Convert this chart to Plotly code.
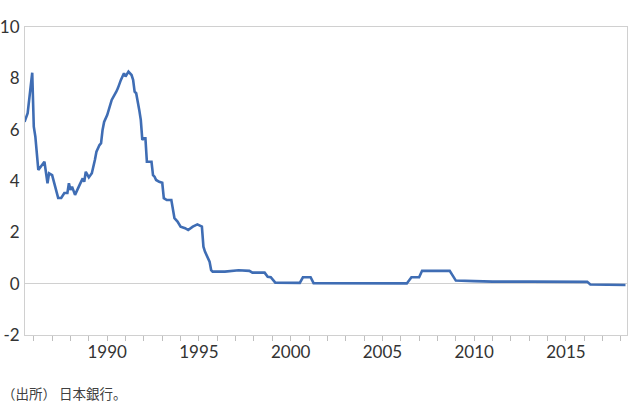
import plotly.graph_objects as go

dates = [
    "1985-07", "1985-09", "1985-12", "1986-01", "1986-02", "1986-04", "1986-08", "1986-10",
    "1986-11", "1987-01", "1987-05", "1987-07", "1987-09", "1987-11", "1987-12", "1988-01",
    "1988-02", "1988-04", "1988-07", "1988-09", "1988-10", "1988-11", "1989-01", "1989-03",
    "1989-05", "1989-06", "1989-08", "1989-09", "1989-10", "1989-11", "1990-01", "1990-02",
    "1990-04", "1990-07", "1990-08", "1990-10", "1990-12", "1991-01", "1991-03", "1991-05",
    "1991-06", "1991-07", "1991-08", "1991-10", "1991-11", "1991-12", "1992-01", "1992-02",
    "1992-03", "1992-06", "1992-07", "1992-08", "1992-09", "1992-11", "1993-01", "1993-02",
    "1993-04", "1993-07", "1993-09", "1993-11", "1994-01", "1994-04", "1994-06", "1994-09",
    "1994-12", "1995-03", "1995-04", "1995-05", "1995-07", "1995-08", "1995-09", "1995-10",
    "1996-06", "1997-03", "1997-10", "1997-12", "1998-08", "1998-10", "1998-12", "1999-03",
    "2000-07", "2000-09", "2001-02", "2001-04", "2006-05", "2006-08", "2007-01", "2007-03",
    "2008-09", "2009-01", "2010-01", "2011-01", "2013-01", "2015-06", "2016-03", "2016-05",
    "2018-04",
]
rates = [
    6.31, 6.64, 8.22, 6.12, 5.73, 4.43, 4.75, 3.91,
    4.30, 4.23, 3.34, 3.34, 3.53, 3.53, 3.91, 3.65,
    3.78, 3.46, 3.85, 4.10, 3.97, 4.36, 4.14, 4.30,
    4.82, 5.14, 5.40, 5.47, 5.99, 6.30, 6.57, 6.77,
    7.16, 7.48, 7.61, 7.94, 8.20, 8.07, 8.26, 8.13,
    7.94, 7.48, 7.42, 6.77, 6.38, 5.60, 5.66, 5.66,
    4.75, 4.75, 4.23, 4.17, 4.04, 3.97, 3.93, 3.33,
    3.26, 3.26, 2.55, 2.42, 2.22, 2.16, 2.09, 2.22,
    2.31, 2.22, 1.44, 1.25, 0.99, 0.86, 0.53, 0.47,
    0.47, 0.52, 0.50, 0.43, 0.43, 0.27, 0.25, 0.04,
    0.03, 0.25, 0.25, 0.02, 0.01, 0.25, 0.25, 0.50,
    0.50, 0.12, 0.10, 0.08, 0.08, 0.07, 0.07, -0.03,
    -0.05,
]

y_ticks = [-2, 0, 2, 4, 6, 8, 10]
y_labels = ["-2", "0", "2", "4", "6", "8", "10"]
source_note = "（出所） 日本銀行。"

fig = go.Figure()
fig.add_trace(go.Scatter(
    x=dates, y=rates, mode="lines",
    line=dict(color="#3f6db4", width=2.6),
    hoverinfo="skip",
))

axis_font = dict(family="Lato, 'Open Sans', sans-serif", size=17, color="#333333")

fig.update_layout(
    width=628, height=416,
    margin=dict(l=25, r=1, t=27, b=81, autoexpand=False),
    paper_bgcolor="white", plot_bgcolor="white",
    showlegend=False,
    xaxis=dict(
        type="date", automargin=False,
        range=["1985-07-10", "2018-05-01"],
        tick0="1990-01-01", dtick="M60", tickformat="%Y",
        ticks="outside", ticklen=5, tickcolor="#bfbfbf", tickwidth=1,
        minor=dict(ticks="outside", dtick="M12", tick0="1986-01-01", ticklen=5,
                   tickcolor="#bfbfbf", tickwidth=1),
        showgrid=False, showline=True, linecolor="#d0d0d0", linewidth=1, mirror=True,
        ticklabelstandoff=-3,
        tickfont=axis_font,
    ),
    yaxis=dict(
        range=[-2, 10], tickvals=y_ticks, ticktext=y_labels, automargin=False,
        showgrid=False, showline=True, linecolor="#d0d0d0", linewidth=1, mirror=True,
        zeroline=True, zerolinecolor="#d0d0d0", zerolinewidth=1,
        ticks="", ticklabelstandoff=1,
        tickfont=axis_font,
    ),
    annotations=[dict(
        text=source_note, xref="paper", yref="paper",
        x=-25/602, y=-58/308, xanchor="left", yanchor="middle", showarrow=False,
        font=dict(family="Noto Sans CJK JP", size=13.5, color="#404040"),
    )],
)

fig.write_html("out.html")
